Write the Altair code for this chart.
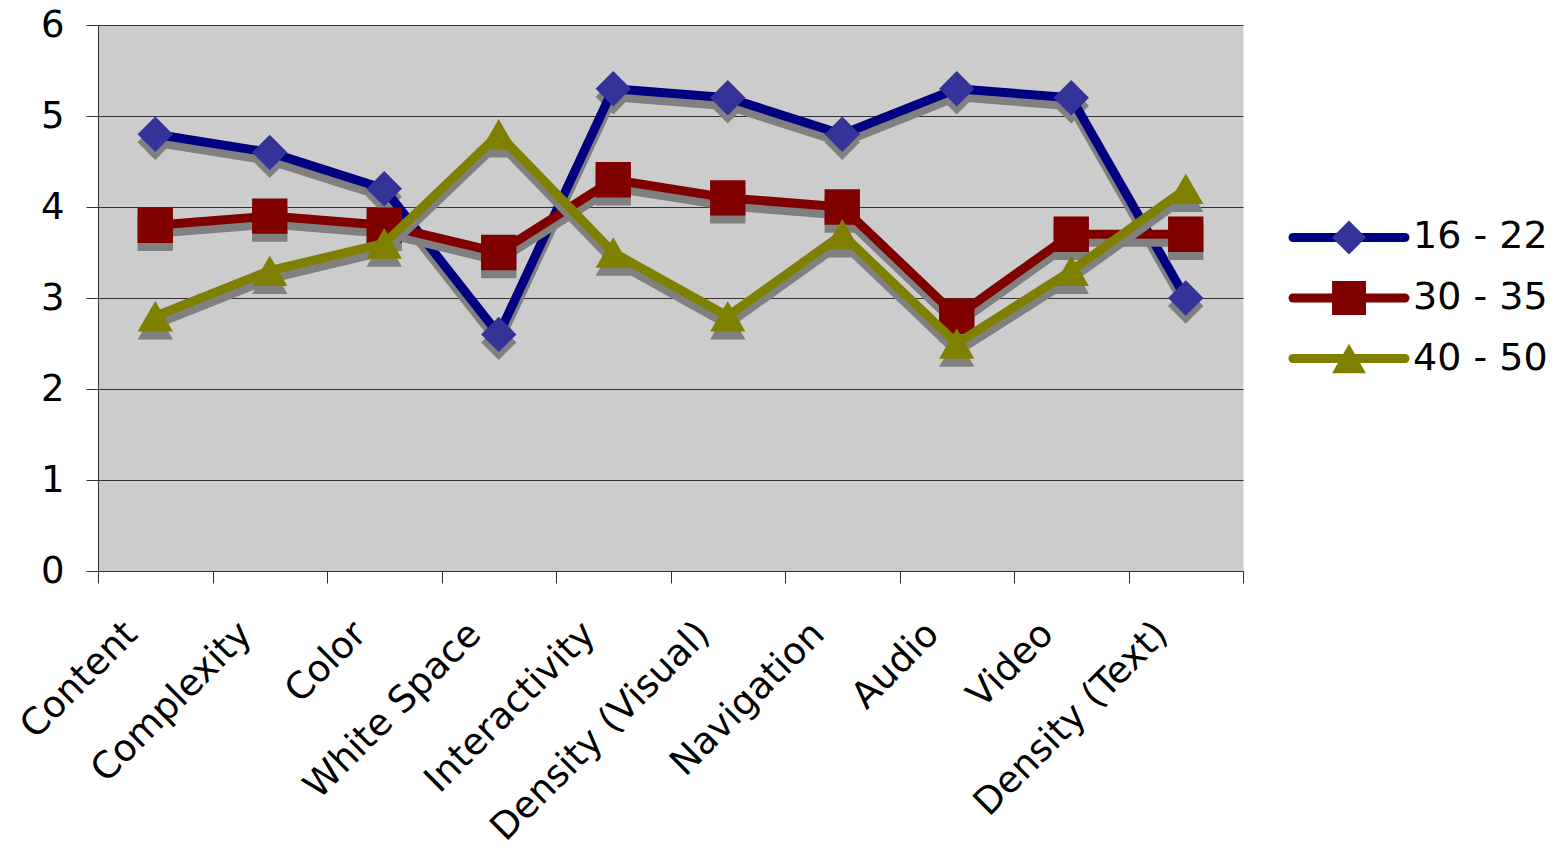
import json
import altair as alt
import pandas as pd

categories = ["Content", "Complexity", "Color", "White Space", "Interactivity",
              "Density (Visual)", "Navigation", "Audio", "Video", "Density (Text)"]
series_names = ["16 - 22", "30 - 35", "40 - 50"]
values_16_22 = [4.8, 4.6, 4.2, 2.6, 5.3, 5.2, 4.8, 5.3, 5.2, 3.0]
values_30_35 = [3.8, 3.9, 3.8, 3.5, 4.3, 4.1, 4.0, 2.8, 3.7, 3.7]
values_40_50 = [2.8, 3.3, 3.6, 4.8, 3.5, 2.8, 3.7, 2.5, 3.3, 4.2]
y_ticks = [0, 1, 2, 3, 4, 5, 6]
legend_rank = [2, 1, 0]

line_colors = ["#000080", "#800000", "#808000"]
marker_colors = ["#333399", "#800000", "#808000"]
shapes = ["diamond", "square", "triangle-up"]
shadow_color = "#808080"
FONT = "DejaVu Sans"

all_values = [values_16_22, values_30_35, values_40_50]
rows = []
for s, vals in zip(series_names, all_values):
    for i, (c, v) in enumerate(zip(categories, vals)):
        rows.append({"series": s, "idx": i, "category": c, "value": v})
df = pd.DataFrame(rows)

n = len(categories)
label_expr = "(" + json.dumps(categories) + ")[datum.value + 0.5] || ''"

x_enc = alt.X(
    "idx:Q",
    scale=alt.Scale(domain=[-0.5, n - 0.5], nice=False, zero=False),
    axis=alt.Axis(
        values=[i - 0.5 for i in range(n + 1)],
        labelExpr=label_expr,
        labelAngle=-45,
        labelAlign="right",
        labelBaseline="middle",
        labelOffset=33,
        labelPadding=45,
        labelFontSize=37,
        labelFont=FONT,
        labelColor="black",
        labelOverlap=False,
        labelFlush=False,
        labelBound=False,
        labelLimit=0,
        tickSize=12,
        tickColor="#333333",
        domainColor="#333333",
        grid=False,
        minExtent=276,
        maxExtent=276,
        title=None,
    ),
)
y_enc = alt.Y(
    "value:Q",
    scale=alt.Scale(domain=[0, 6], nice=False, zero=True),
    axis=alt.Axis(
        values=y_ticks,
        format="d",
        grid=True,
        gridColor="#333333",
        gridWidth=1,
        tickSize=12,
        tickColor="#333333",
        domainColor="#333333",
        labelPadding=22,
        labelFontSize=37,
        labelFont=FONT,
        labelColor="black",
        minExtent=92,
        maxExtent=92,
        title=None,
    ),
)

layers = []
for s, lc, mc, sh in zip(series_names, line_colors, marker_colors, shapes):
    base = alt.Chart(df).transform_filter(alt.datum.series == s).encode(x=x_enc, y=y_enc)
    layers.append(base.mark_line(color=shadow_color, strokeWidth=9, yOffset=8,
                                 strokeCap="round", strokeJoin="round"))
    layers.append(base.mark_point(shape=sh, size=1250, filled=True, opacity=1,
                                  color=shadow_color, yOffset=8))
    layers.append(base.mark_line(color=lc, strokeWidth=9,
                                 strokeCap="round", strokeJoin="round"))
    layers.append(base.mark_point(shape=sh, size=1250, filled=True, opacity=1,
                                  color=mc))

main = alt.layer(*layers).properties(
    width=1145, height=546,
    view=alt.ViewBackground(fill="#CCCCCC", stroke="transparent"),
)

# legend panel
leg_rows = []
for s, r, lc, mc, sh in zip(series_names, legend_rank, line_colors, marker_colors, shapes):
    leg_rows.append({"series": s, "rank": r, "x0": 0.0, "x1": 1.0, "xm": 0.5,
                     "lc": lc, "mc": mc, "shape": sh})
leg_df = pd.DataFrame(leg_rows)

ly = alt.Y("rank:Q", scale=alt.Scale(domain=[-3.51, 5.51], nice=False, zero=False), axis=None)
lx_scale = alt.Scale(domain=[0, 1], nice=False, zero=False)

leg_line = alt.Chart(leg_df).mark_rule(strokeWidth=9, strokeCap="round").encode(
    x=alt.X("x0:Q", scale=lx_scale, axis=None),
    x2="x1:Q",
    y=ly,
    color=alt.Color("lc:N", scale=None, legend=None),
)
leg_pts = alt.Chart(leg_df).mark_point(size=1150, filled=True, opacity=1).encode(
    x=alt.X("xm:Q", scale=lx_scale, axis=None),
    y=ly,
    color=alt.Color("mc:N", scale=None, legend=None),
    shape=alt.Shape("shape:N", scale=None, legend=None),
)
leg_text = alt.Chart(leg_df).mark_text(align="left", baseline="middle", dx=8,
                                       fontSize=38, font=FONT, color="black").encode(
    x=alt.X("x1:Q", scale=lx_scale, axis=None),
    y=ly,
    text="series:N",
)
legend = alt.layer(leg_line, leg_pts, leg_text).properties(
    width=112, height=546,
    view=alt.ViewBackground(fill="transparent", stroke="transparent"),
)

chart = alt.hconcat(main, legend, spacing=50, bounds="flush").configure_view(
    stroke="transparent"
).configure(background="white")

chart.save("out.html", embed_options={"renderer": "svg", "actions": False})
